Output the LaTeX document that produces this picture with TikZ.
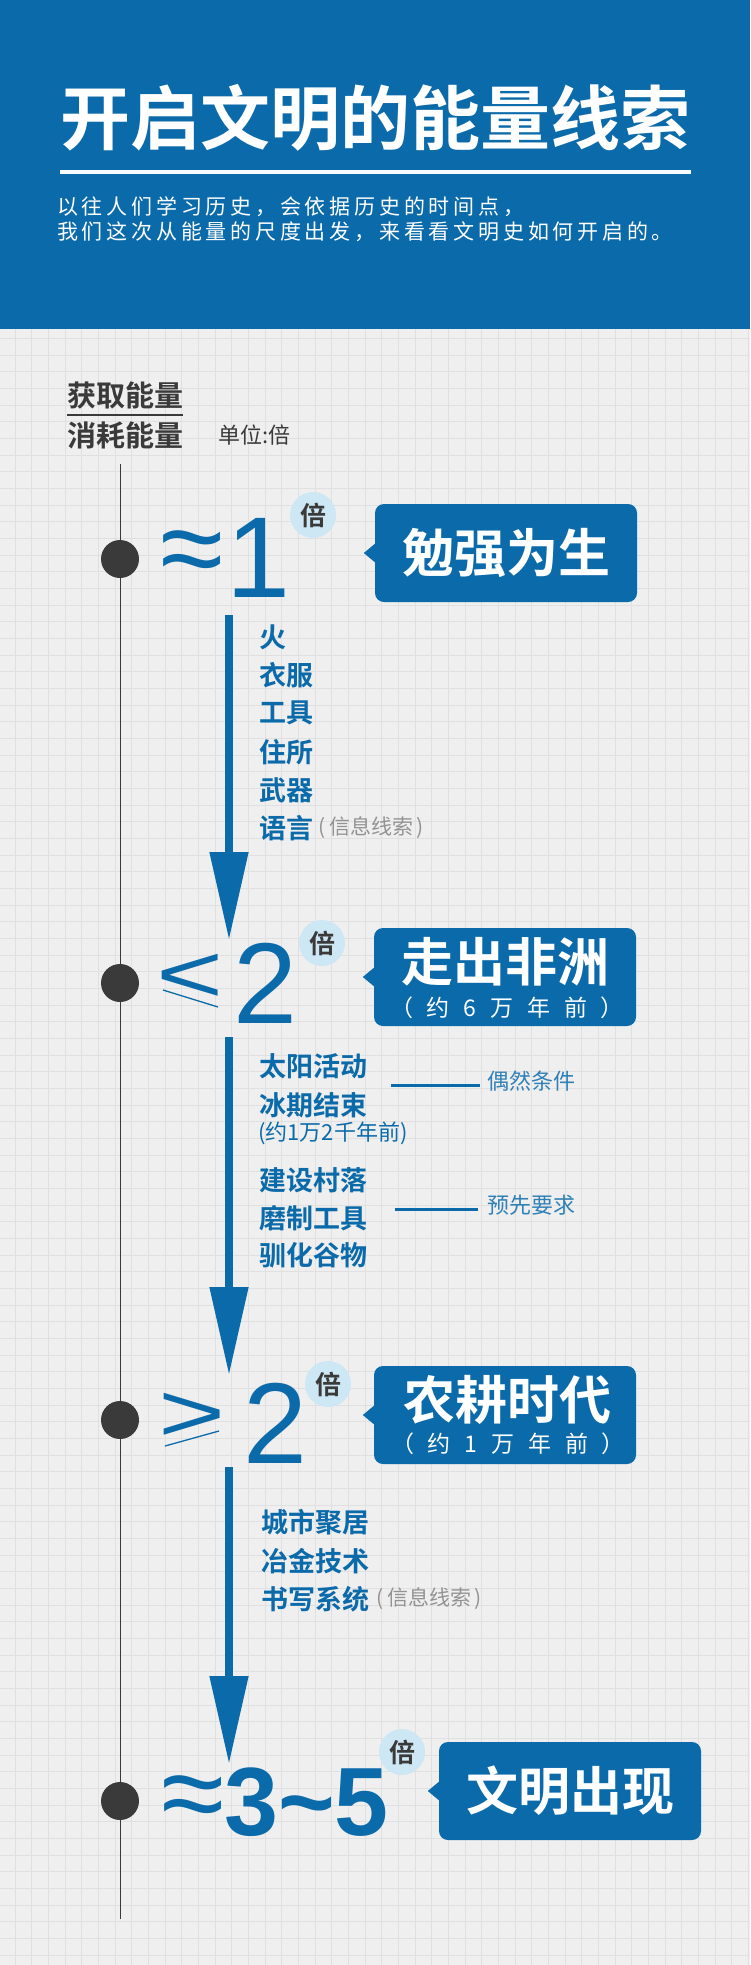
\documentclass[tikz,border=0pt]{standalone}
\usepackage{fontspec}
\setmainfont{Noto Sans CJK SC}[BoldFont={Noto Sans CJK SC Bold}]
\newfontfamily\numfont{Liberation Sans}
\usetikzlibrary{arrows.meta,positioning}
\definecolor{deepblue}{HTML}{0B6AAA}
\definecolor{paleblue}{HTML}{CDE7F4}
\definecolor{paper}{HTML}{EFEFEF}
\definecolor{gridgray}{HTML}{E0E0E0}
\definecolor{ink}{HTML}{3A3A3A}
\newcommand{\fsize}[1]{\fontsize{#1}{#1}\selectfont}

\begin{document}
\begin{tikzpicture}[x=1pt,y=-1pt,
    every node/.style={inner sep=0pt},
    dot/.style={circle,fill=ink,minimum size=38pt},
    big/.style={text=deepblue,font=\numfont\fsize{115}},
    bei/.style={circle,fill=paleblue,minimum size=46pt,text=ink,font=\bfseries\fsize{26}},
    tag/.style={fill=deepblue,rounded corners=9pt,minimum width=262pt,minimum height=98pt},
    tagtitle/.style={text=white,font=\bfseries\fsize{52}},
    tagsub/.style={text=white,font=\fsize{23}},
    item/.style={anchor=west,text=deepblue,font=\bfseries\fsize{27}},
    remark/.style={anchor=west,text=gray!85,font=\fsize{21}},
    side/.style={anchor=west,text=deepblue!85,font=\fsize{22}},
    flow/.style={deepblue,line width=8pt,-{Triangle[length=88pt,width=37pt]}},
    bar/.style={deepblue,line width=3pt}]

  \useasboundingbox (0,0) rectangle (750,1965);
  \fill[paper] (0,0) rectangle (750,1965);
  \draw[gridgray,line width=0.8pt,step=16.667pt,shift={(15,5)}] (-15,1960) grid (735,-5);
  \fill[deepblue] (0,0) rectangle (750,329);

  \node[text=white,font=\bfseries\fsize{70}] (title) at (375,118) {开启文明的能量线索};
  \draw[white!85!paleblue,line width=4pt] (60,172) -- (691,172);
  \node[anchor=west,text=white,font=\fsize{21}\addfontfeatures{LetterSpace=18}] (intro) at (57,207) {以往人们学习历史，会依据历史的时间点，};
  \node[anchor=west,text=white,font=\fsize{21}\addfontfeatures{LetterSpace=18}] (intro2) at (57,232) {我们这次从能量的尺度出发，来看看文明史如何开启的。};

  \node[anchor=west,text=ink,font=\bfseries\fsize{29}] (gain) at (67,395) {获取能量};
  \node[anchor=west,text=ink,font=\bfseries\fsize{29}] (cost) at (67,435) {消耗能量};
  \draw[ink,line width=1.5pt] (67,415) -- (183,415);
  \node[text=ink,font=\fsize{22},right=35pt of cost] (unit) {单位:倍};

  \coordinate (top) at (120,464);
  \coordinate (end) at (120,1919);
  \draw[ink,line width=1pt] (top) -- (end);
  \node[dot] (d1) at (120,559) {};
  \node[dot] (d2) at (120,983) {};
  \node[dot] (d3) at (120,1420) {};
  \node[dot] (d4) at (120,1801) {};

  \node[big] (approx1) at (192,559) {≈};
  \node[big,anchor=base west] (one) at (226,597) {1};
  \node[bei] (bei1) at (313,515) {倍};
  \node[tag,tagtitle] (stage1) at (506,553) {勉强为生};
  \fill[deepblue] (stage1.west) ++(1,-10) -- ++(-12,10) -- ++(12,10) -- cycle;

  \node[item] (fire) at (259,637) {火};
  \node[item] (clothes) at (259,675) {衣服};
  \node[item] (tools) at (259,713) {工具};
  \node[item] (shelter) at (259,752) {住所};
  \node[item] (weapons) at (259,790) {武器};
  \node[item] (speech) at (259,828) {语言};
  \node[remark,right=5pt of speech] (info1) {(\,信息线索\,)};
  \coordinate (from1) at (229,615);
  \coordinate (to1) at (229,940);
  \draw[flow] (from1) -- (to1);

  \node[big] (less) at (190,978) {\scalebox{1}[0.72]{<}};
  \draw[deepblue,line width=1.3pt] (163,990) -- (218,1007);
  \node[big,anchor=base west] (two) at (233,1023) {2};
  \node[bei] (bei2) at (322,943) {倍};
  \node[tag] (stage2) at (505,977) {};
  \fill[deepblue] (stage2.west) ++(1,-10) -- ++(-12,10) -- ++(12,10) -- cycle;
  \node[tagtitle] (stage2t) at (505,962) {走出非洲};
  \node[tagsub] (stage2s) at (507,1008) {\hbox to 234pt{（\hfil 约\hfil 6\hfil 万\hfil 年\hfil 前\hfil ）}};

  \node[item] (sun) at (259,1066) {太阳活动};
  \node[item] (ice) at (259,1105) {冰期结束};
  \node[side,text=deepblue] (icedate) at (258,1133) {(约1万2千年前)};
  \node[item] (village) at (259,1180) {建设村落};
  \node[item] (grind) at (259,1218) {磨制工具};
  \node[item] (grain) at (259,1255) {驯化谷物};
  \node[side] (chance) at (487,1081) {偶然条件};
  \coordinate (chancebar) at (391,1085);
  \draw[bar,shorten >=7pt] (chancebar) -- (chancebar -| chance.west);
  \node[side] (prereq) at (487,1205) {预先要求};
  \coordinate (prereqbar) at (395,1209);
  \draw[bar,shorten >=9pt] (prereqbar) -- (prereqbar -| prereq.west);
  \coordinate (from2) at (229,1037);
  \coordinate (to2) at (229,1375);
  \draw[flow] (from2) -- (to2);

  \node[big] (more) at (192,1417) {\scalebox{1}[0.72]{>}};
  \draw[deepblue,line width=1.3pt] (165,1446) -- (219,1431);
  \node[big,anchor=base west] (two2) at (243,1463) {2};
  \node[bei] (bei3) at (328,1384) {倍};
  \node[tag] (stage3) at (505,1415) {};
  \fill[deepblue] (stage3.west) ++(1,-10) -- ++(-12,10) -- ++(12,10) -- cycle;
  \node[tagtitle] (stage3t) at (507,1400) {农耕时代};
  \node[tagsub] (stage3s) at (508,1444) {\hbox to 234pt{（\hfil 约\hfil 1\hfil 万\hfil 年\hfil 前\hfil ）}};

  \node[item] (city) at (261,1522) {城市聚居};
  \node[item] (metal) at (261,1561) {冶金技术};
  \node[item] (writing) at (261,1599) {书写系统};
  \node[remark,right=7pt of writing] (info2) {(\,信息线索\,)};
  \coordinate (from3) at (229,1467);
  \coordinate (to3) at (229,1764);
  \draw[flow] (from3) -- (to3);

  \node[big] (approx2) at (193,1804) {≈};
  \node[big,font=\numfont\bfseries\fsize{97},anchor=base west] (range) at (224,1835) {3\textasciitilde5};
  \node[bei] (bei4) at (402,1752) {倍};
  \node[tag,tagtitle] (stage4) at (570,1791) {文明出现};
  \fill[deepblue] (stage4.west) ++(1,-10) -- ++(-12,10) -- ++(12,10) -- cycle;
\end{tikzpicture}
\end{document}
